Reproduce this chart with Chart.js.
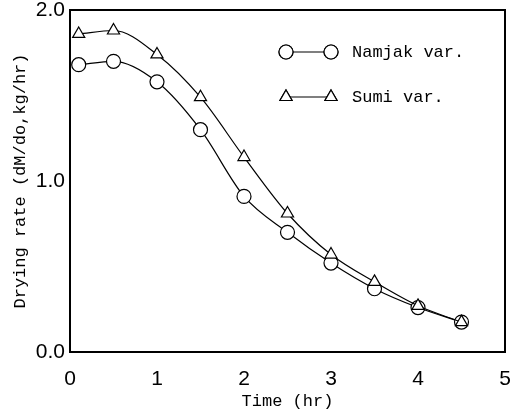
<!DOCTYPE html>
<html>
<head>
<meta charset="utf-8">
<script src="https://cdn.jsdelivr.net/npm/chart.js@4/dist/chart.umd.min.js"></script>
<style>
  html, body { margin: 0; padding: 0; background: #fff; }
  #wrap { width: 517px; height: 415px; position: relative; }
</style>
</head>
<body>
<div id="wrap"><canvas id="chart" width="517" height="415"></canvas></div>
<script>
// Drying time (hr) and drying rate for the two varieties
const times = [0.1, 0.5, 1.0, 1.5, 2.0, 2.5, 3.0, 3.5, 4.0, 4.5];
const namjak = [1.68, 1.70, 1.58, 1.30, 0.91, 0.70, 0.52, 0.37, 0.26, 0.175];
const sumi = [1.86, 1.88, 1.74, 1.49, 1.14, 0.81, 0.57, 0.41, 0.27, 0.175];
const xTicks = [0, 1, 2, 3, 4, 5];
const yTicks = [0, 1, 2];

const legendItems = [
  { label: 'Namjak var.', style: 'circle' },
  { label: 'Sumi var.', style: 'triangle' }
];

const mono = '"Liberation Mono", "DejaVu Sans Mono", monospace';
const sans = '"Liberation Sans", Arial, sans-serif';

function toPoints(ys) {
  return times.map((t, i) => ({ x: t, y: ys[i] }));
}

// tick labels may stick out of the plot box, like the original
function noLabelPadding(s) {
  s.paddingTop = 0;
  s.paddingBottom = 0;
  s.paddingLeft = 0;
  s.paddingRight = 0;
}

// frame around the plot plus the in-plot legend
const framePlugin = {
  id: 'frame',
  afterDraw(chart) {
    const { ctx, chartArea: a } = chart;
    ctx.save();
    ctx.strokeStyle = '#000';
    ctx.lineWidth = 2;
    ctx.strokeRect(a.left, a.top, a.right - a.left, a.bottom - a.top);

    ctx.lineWidth = 1.2;
    ctx.font = '17px ' + mono;
    ctx.fillStyle = '#000';
    ctx.textBaseline = 'middle';
    legendItems.forEach((item, i) => {
      const y = a.top + 42 + i * 45;
      const x0 = a.left + 216, x1 = a.left + 261;
      ctx.beginPath();
      ctx.moveTo(x0, y);
      ctx.lineTo(x1, y);
      ctx.stroke();
      [x0, x1].forEach(x => {
        Chart.helpers.drawPoint(ctx, {
          pointStyle: item.style, radius: 7, borderWidth: 1.2, rotation: 0
        }, x, y);
        ctx.fillStyle = '#fff';
        ctx.fill();
        ctx.stroke();
        ctx.fillStyle = '#000';
      });
      ctx.fillText(item.label, a.left + 282, y);
    });
    ctx.restore();
  }
};

const common = {
  borderColor: '#000',
  borderWidth: 1.2,
  pointBackgroundColor: '#fff',
  pointBorderColor: '#000',
  pointBorderWidth: 1.2,
  pointRadius: 7,
  fill: false,
  tension: 0.4,
  cubicInterpolationMode: 'monotone'
};

new Chart(document.getElementById('chart'), {
  type: 'line',
  data: {
    datasets: [
      Object.assign({ label: 'Namjak var.', data: toPoints(namjak), pointStyle: 'circle', order: 1 }, common),
      Object.assign({ label: 'Sumi var.', data: toPoints(sumi), pointStyle: 'triangle', order: 0 }, common)
    ]
  },
  options: {
    responsive: false,
    animation: false,
    layout: { padding: { top: 10, right: 12, left: 0, bottom: 0 } },
    plugins: {
      legend: { display: false },
      tooltip: { enabled: false }
    },
    scales: {
      x: {
        type: 'linear',
        min: 0,
        max: 5,
        afterFit: s => { s.height = 63; noLabelPadding(s); },
        afterBuildTicks: s => { s.ticks = xTicks.map(v => ({ value: v })); },
        grid: { display: false, drawTicks: false },
        border: { display: false },
        ticks: { color: '#000', padding: 15, font: { family: sans, size: 21 } },
        title: {
          display: true,
          text: 'Time (hr)',
          color: '#000',
          font: { family: mono, size: 17 },
          padding: { top: 0, bottom: 3 }
        }
      },
      y: {
        min: 0,
        max: 2,
        afterFit: s => { s.width = 70; noLabelPadding(s); },
        afterBuildTicks: s => { s.ticks = yTicks.map(v => ({ value: v })); },
        grid: { display: false, drawTicks: false },
        border: { display: false },
        ticks: {
          color: '#000',
          padding: 5,
          font: { family: sans, size: 21 },
          callback: v => v.toFixed(1)
        },
        title: {
          display: true,
          text: 'Drying rate (dM/do,kg/hr)',
          color: '#000',
          font: { family: mono, size: 17 },
          padding: { top: 10, bottom: 0 }
        }
      }
    }
  },
  plugins: [framePlugin]
});
</script>
</body>
</html>
